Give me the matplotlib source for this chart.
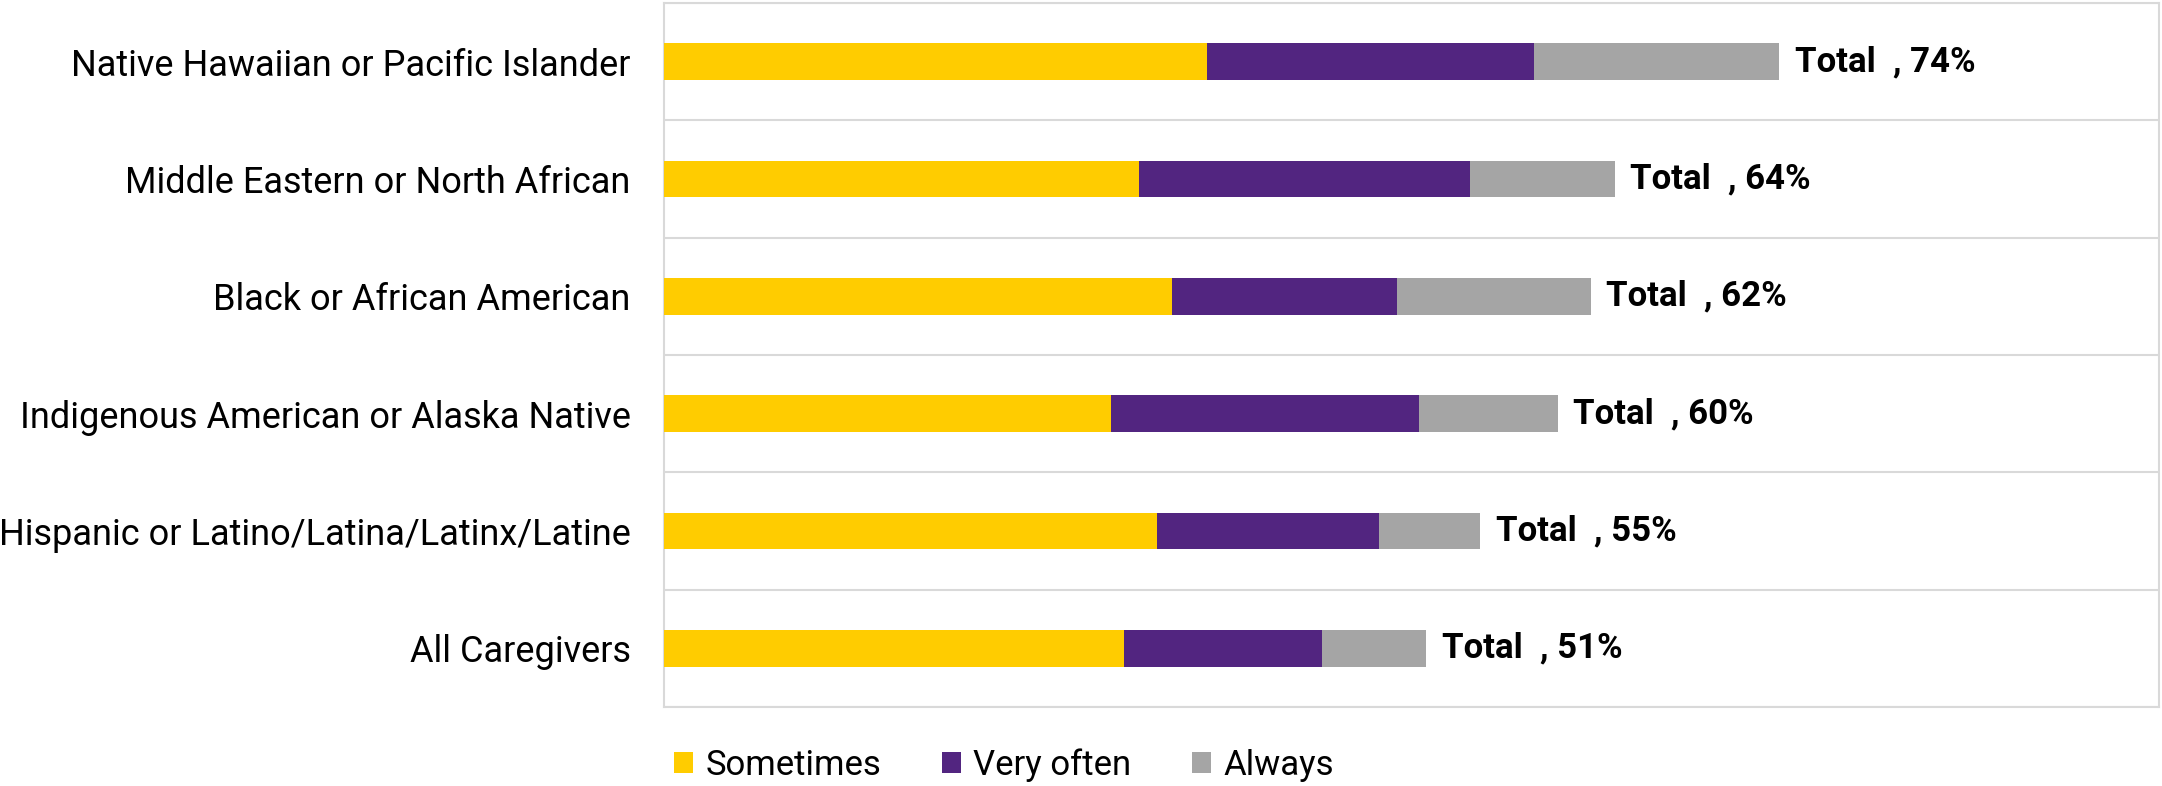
import matplotlib
matplotlib.use("Agg")
import matplotlib.pyplot as plt
from matplotlib.patches import Patch
import numpy as np

categories = [
    "Native Hawaiian or Pacific Islander",
    "Middle Eastern or North African",
    "Black or African American",
    "Indigenous American or Alaska Native",
    "Hispanic or Latino/Latina/Latinx/Latine",
    "All Caregivers",
]
sometimes = [36.3, 31.8, 34.0, 29.9, 33.0, 30.8]
very_often = [21.9, 22.1, 15.0, 20.6, 14.8, 13.2]
always = [16.4, 9.7, 13.0, 9.3, 6.8, 7.0]
totals = [74, 64, 62, 60, 55, 51]

series_names = ["Sometimes", "Very often", "Always"]
colors = ["#FFCC00", "#522580", "#A5A5A5"]

plt.rcParams['font.family'] = ['Roboto', 'DejaVu Sans']

fig = plt.figure(figsize=(21.62, 7.86), dpi=100)
ax = fig.add_axes([664/2162, 1-707/786, (2159-664)/2162, (707-3)/786])

y = np.arange(len(categories))
left = np.zeros(len(categories))
for vals, c, name in zip([sometimes, very_often, always], colors, series_names):
    ax.barh(y, vals, left=left, height=0.31, color=c, label=name, zorder=3)
    left = left + np.array(vals)

for yi, end, t in zip(y, left, totals):
    ax.annotate(f"Total  , {t}%", xy=(end, yi), xytext=(11, 0), textcoords="offset points",
                va="center", ha="left", fontsize=25, fontweight="bold", color="black")

ax.set_xlim(0, 100)
ax.set_ylim(len(categories) - 0.5, -0.5)
ax.set_yticks(y)
ax.set_yticklabels(categories, fontsize=26)
ax.tick_params(axis='y', length=0, pad=24)
ax.set_xticks([])
ax.set_yticks(np.arange(len(categories) + 1) - 0.5, minor=True)
ax.tick_params(axis='y', which='minor', length=0)
ax.grid(axis='y', which='minor', color='#D9D9D9', linewidth=1.5, zorder=0)
for s in ax.spines.values():
    s.set_color('#D9D9D9')
    s.set_linewidth(1.5)

handles = [Patch(facecolor=c, label=n) for c, n in zip(colors, series_names)]
fig.legend(handles=handles, loc='center left', bbox_to_anchor=(660/2162, 1-765/786),
           ncol=3, frameon=False, fontsize=25, handlelength=0.55, handleheight=0.55,
           handletextpad=0.35, columnspacing=1.75, borderaxespad=0)

fig.savefig("out.png", dpi=100)
